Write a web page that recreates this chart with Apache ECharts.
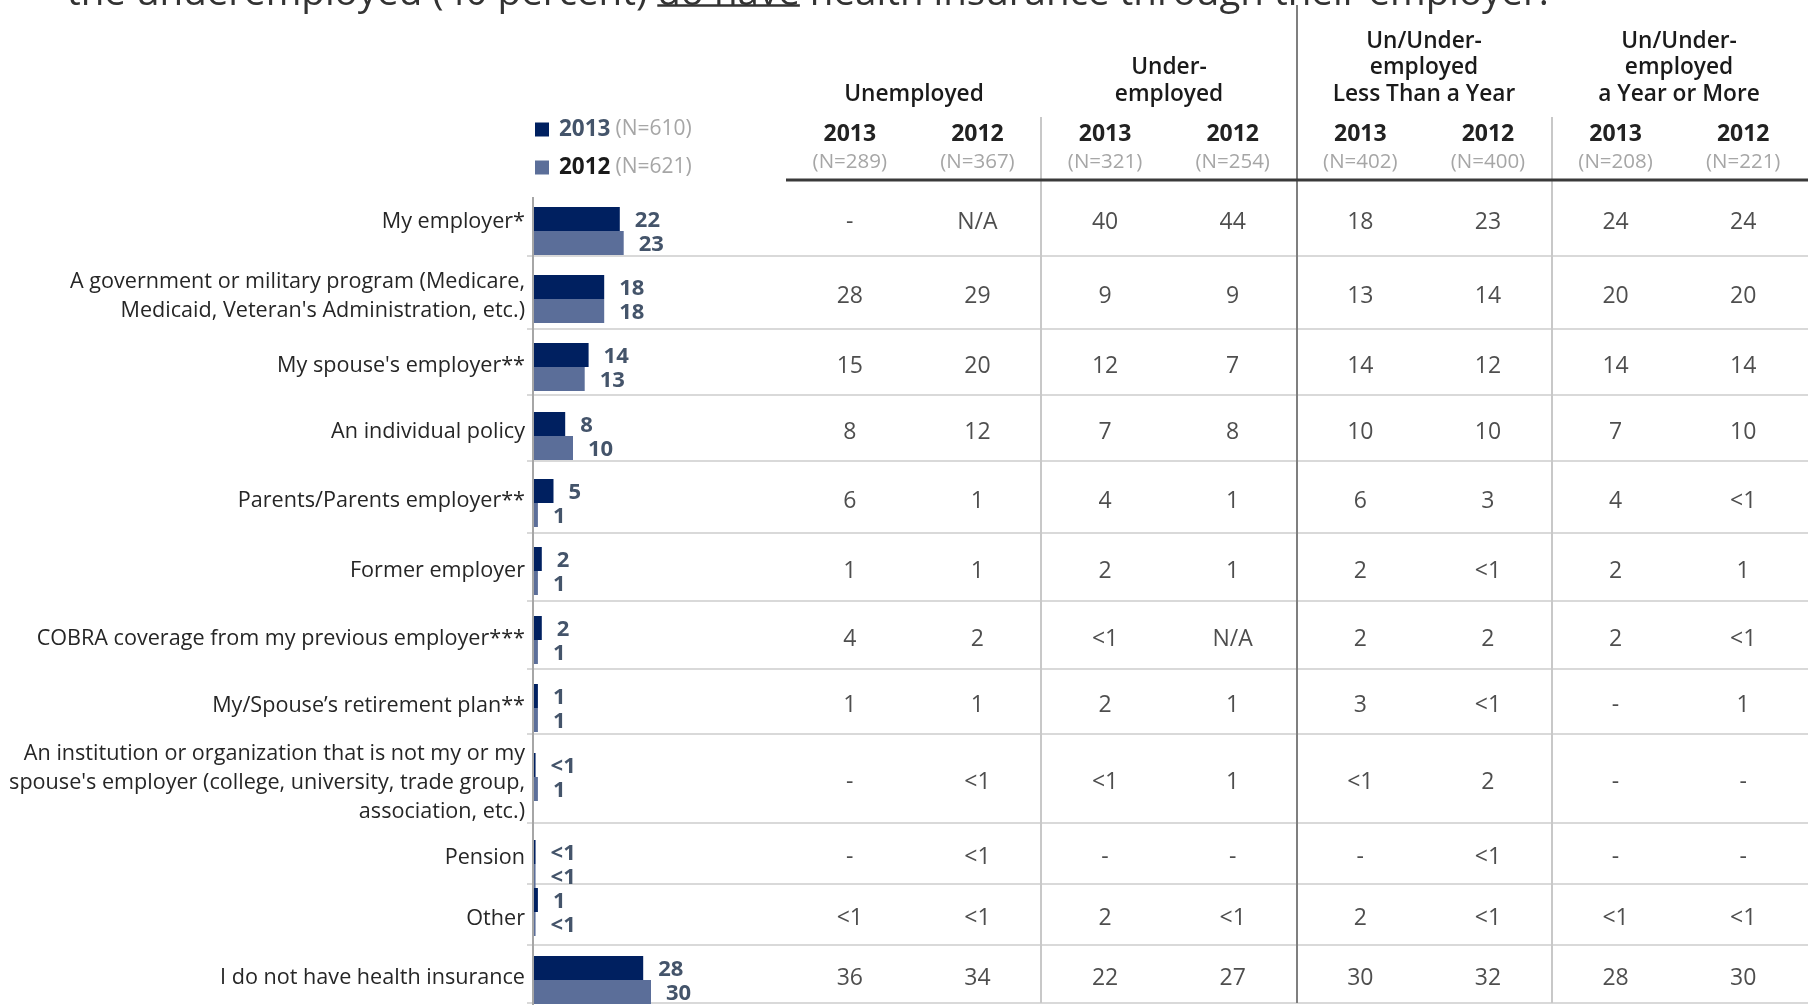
<!DOCTYPE html>
<html>
<head>
<meta charset="utf-8">
<script src="https://cdn.jsdelivr.net/npm/echarts@6/dist/echarts.min.js"></script>
<style>
  html, body { margin: 0; padding: 0; background: #ffffff; }
  #chart { width: 1808px; height: 1007px; }
</style>
</head>
<body>
<div id="chart"></div>
<script>
// ---- data ----
const categories = [
  'My employer*',
  'A government or military program (Medicare,\nMedicaid, Veteran\'s Administration, etc.)',
  'My spouse\'s employer**',
  'An individual policy',
  'Parents/Parents employer**',
  'Former employer',
  'COBRA coverage from my previous employer***',
  'My/Spouse\u2019s retirement plan**',
  'An institution or organization that is not my or my\nspouse\'s employer (college, university, trade group,\nassociation, etc.)',
  'Pension',
  'Other',
  'I do not have health insurance'
];

// overall share, all respondents
const total2013 = ['22', '18', '14', '8', '5', '2', '2', '1', '<1', '<1', '1', '28'];
const total2012 = ['23', '18', '13', '10', '1', '1', '1', '1', '1', '<1', '<1', '30'];
const legendN = { '2013': '610', '2012': '621' };

// breakdown table
const unemployed2013 = ['-', '28', '15', '8', '6', '1', '4', '1', '-', '-', '<1', '36'];
const unemployed2012 = ['N/A', '29', '20', '12', '1', '1', '2', '1', '<1', '<1', '<1', '34'];
const underemployed2013 = ['40', '9', '12', '7', '4', '2', '<1', '2', '<1', '-', '2', '22'];
const underemployed2012 = ['44', '9', '7', '8', '1', '1', 'N/A', '1', '1', '-', '<1', '27'];
const lessThanYear2013 = ['18', '13', '14', '10', '6', '2', '2', '3', '<1', '-', '2', '30'];
const lessThanYear2012 = ['23', '14', '12', '10', '3', '<1', '2', '<1', '2', '<1', '<1', '32'];
const yearOrMore2013 = ['24', '20', '14', '7', '4', '2', '2', '-', '-', '-', '<1', '28'];
const yearOrMore2012 = ['24', '20', '14', '10', '<1', '1', '<1', '1', '-', '-', '<1', '30'];

const columnYears = ['2013', '2012', '2013', '2012', '2013', '2012', '2013', '2012'];
const columnN = ['289', '367', '321', '254', '402', '400', '208', '221'];
const groupTitles = [
  'Unemployed',
  'Under-\nemployed',
  'Un/Under-\nemployed\nLess Than a Year',
  'Un/Under-\nemployed\na Year or More'
];
const headline = ['the underemployed (40 percent) ', 'do have', ' health insurance through their employer.'];

// ---- layout ----
const FONT = '"Open Sans", "Noto Sans", sans-serif';
const DARK = '#002060';
const LIGHT = '#5B6E99';
const rowEdges = [180, 256, 329, 395, 461, 533, 601, 669, 734, 823, 884, 945, 1003];
const barTops = [207, 275, 343, 412, 479, 547, 616, 684, 753, 840, 888, 956];
const TEXT_SHIFT = 4;
const BAR_LEFT = 534, BAR_MAX = 40, PX_PER_UNIT = 3.9;
const TABLE_LEFT = 786, TABLE_WIDTH = 1021;
const groupCenters = [914, 1169, 1424, 1679];

const tableColumns = [unemployed2013, unemployed2012, underemployed2013, underemployed2012,
  lessThanYear2013, lessThanYear2012, yearOrMore2013, yearOrMore2012];

// "<1" is drawn as a sliver just under one point
const toNumber = s => (s === '<1' ? 0.4 : Number(s));

const grid = [], xAxis = [], yAxis = [], series = [];

categories.forEach((cat, i) => {
  // bar grid for this row
  const gb = grid.length;
  grid.push({ left: BAR_LEFT, top: barTops[i], width: BAR_MAX * PX_PER_UNIT, height: 48 });
  xAxis.push({ gridIndex: gb, type: 'value', min: 0, max: BAR_MAX, show: false });
  yAxis.push({ gridIndex: gb, type: 'category', data: [cat], inverse: true, show: false });

  const barLabel = {
    show: true, position: 'right', distance: 15, offset: [0, 2],
    fontFamily: FONT, fontWeight: 'bold', fontSize: 22, color: '#44546A',
    formatter: p => (p.value < 1 ? '<1' : String(p.value))
  };
  series.push({
    name: '2013', type: 'bar', xAxisIndex: gb, yAxisIndex: gb,
    barWidth: 24, barGap: '0%', itemStyle: { color: DARK },
    label: barLabel, data: [toNumber(total2013[i])], silent: true
  });
  series.push({
    name: '2012', type: 'bar', xAxisIndex: gb, yAxisIndex: gb,
    barWidth: 24, barGap: '0%', itemStyle: { color: LIGHT },
    label: barLabel, data: [toNumber(total2012[i])], silent: true
  });

  // table grid for this row
  const gt = grid.length;
  grid.push({
    left: TABLE_LEFT, top: rowEdges[i] + TEXT_SHIFT, width: TABLE_WIDTH,
    height: rowEdges[i + 1] - rowEdges[i]
  });
  xAxis.push({
    gridIndex: gt, type: 'category', data: columnYears.map((y, k) => y + '#' + k),
    position: 'top',
    axisLine: { show: false }, axisTick: { show: false }, splitLine: { show: false },
    axisLabel: i === 0 ? {
      show: true, interval: 0, margin: 8,
      formatter: (v, k) => `{y|${columnYears[k]}}\n{n|(N=${columnN[k]})}`,
      rich: {
        y: { fontFamily: FONT, fontWeight: 'bold', fontSize: 23, color: '#222', lineHeight: 28, align: 'center' },
        n: { fontFamily: FONT, fontSize: 20.5, color: '#a6a6a6', lineHeight: 28, align: 'center' }
      }
    } : { show: false }
  });
  yAxis.push({
    gridIndex: gt, type: 'category', data: [cat],
    axisLine: { show: false }, axisTick: { show: false }, splitLine: { show: false },
    axisLabel: {
      show: true, margin: TABLE_LEFT - 525, align: 'right',
      fontFamily: FONT, fontSize: 21.6, color: '#262626', lineHeight: 29
    }
  });
  series.push({
    type: 'scatter', xAxisIndex: gt, yAxisIndex: gt, symbolSize: 1,
    itemStyle: { color: 'rgba(0,0,0,0)' }, silent: true,
    label: {
      show: true, position: 'inside', fontFamily: FONT, fontSize: 23, color: '#222',
      formatter: p => p.value[2]
    },
    data: tableColumns.map((col, k) => [k, 0, col[i]])
  });
});

// ---- table rules and headings ----
const graphic = [];
const rule = (x1, y1, x2, y2, color, w) => graphic.push({
  type: 'line', silent: true, z: 0,
  shape: { x1, y1, x2, y2 }, style: { stroke: color, lineWidth: w }
});
rowEdges.slice(1).forEach(y => rule(527, y, 1808, y, '#d9d9d9', 2));
rule(1041, 117, 1041, 1003, '#c8c8c8', 2);
rule(1552, 117, 1552, 1003, '#c8c8c8', 2);
rule(1297, 5, 1297, 1003, '#7f7f7f', 2);
rule(TABLE_LEFT, 180, 1808, 180, '#3a3a3a', 3);
rule(533, 197, 533, 1005, '#a6a6a6', 2);

groupTitles.forEach((t, g) => graphic.push({
  type: 'text', silent: true, x: groupCenters[g], y: 107.5,
  style: {
    text: t, fontFamily: FONT, fontSize: 22.7, fontWeight: 600, fill: '#1a1a1a',
    align: 'center', verticalAlign: 'bottom', lineHeight: 26.5
  }
}));

// headline, cut by the top edge, with the underlined phrase
const HEAD_X = 67, HEAD_SIZE = 38.5;
graphic.push({
  type: 'text', silent: true, x: HEAD_X, y: 14,
  style: {
    text: headline.join(''), fontFamily: FONT, fontSize: HEAD_SIZE, fill: '#333',
    verticalAlign: 'bottom'
  }
});
const ctx = document.createElement('canvas').getContext('2d');
ctx.font = `${HEAD_SIZE}px ${FONT}`;
const ulStart = HEAD_X + ctx.measureText(headline[0]).width;
const ulEnd = ulStart + ctx.measureText(headline[1]).width;
rule(ulStart, 5.5, ulEnd, 5.5, '#333', 2.5);

const chart = echarts.init(document.getElementById('chart'), null, { renderer: 'canvas' });
chart.setOption({
  animation: false,
  backgroundColor: '#ffffff',
  legend: {
    data: ['2013', '2012'], orient: 'vertical', left: 530, top: 113,
    itemWidth: 14, itemHeight: 14, itemGap: 15, icon: 'rect', selectedMode: false,
    formatter: name => `{y${name}|${name}}{n|(N=${legendN[name]})}`,
    textStyle: {
      padding: [0, 0, 0, 5],
      rich: {
        y2013: { fontFamily: FONT, fontWeight: 'bold', fontSize: 22.5, color: '#44546A', lineHeight: 24 },
        y2012: { fontFamily: FONT, fontWeight: 'bold', fontSize: 22.5, color: '#1a1a1a', lineHeight: 24 },
        n: { fontFamily: FONT, fontSize: 21, color: '#a6a6a6', lineHeight: 24, padding: [0, 0, 0, 5] }
      }
    }
  },
  grid, xAxis, yAxis, series, graphic
});
</script>
</body>
</html>
